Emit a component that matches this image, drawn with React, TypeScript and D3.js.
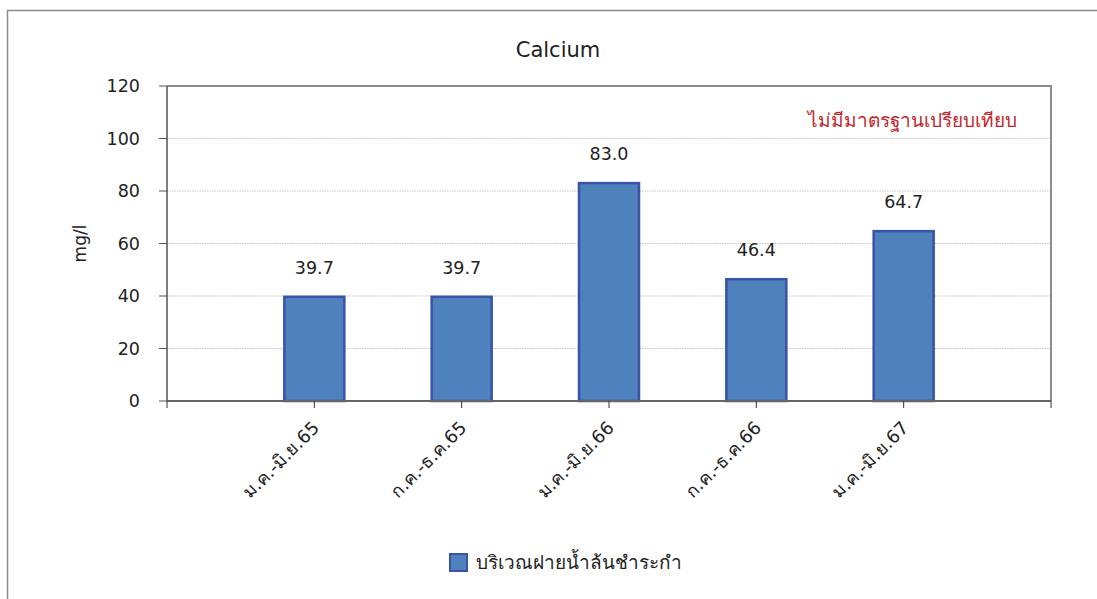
import * as d3 from "d3";

const categories = [
  "ม.ค.-มิ.ย.65",
  "ก.ค.-ธ.ค.65",
  "ม.ค.-มิ.ย.66",
  "ก.ค.-ธ.ค.66",
  "ม.ค.-มิ.ย.67",
];
const values = [39.7, 39.7, 83.0, 46.4, 64.7];
const yTicks = [0, 20, 40, 60, 80, 100, 120];
const seriesName = "บริเวณฝายน้ำล้นชำระกำ";
const title = "Calcium";
const yLabel = "mg/l";
const note = "ไม่มีมาตรฐานเปรียบเทียบ";

const width = 1097;
const height = 599;
const plot = { left: 167, right: 1051, top: 86, bottom: 401 };
const font = "Tahoma, 'DejaVu Sans', 'Noto Sans', sans-serif";

export default function App() {
  const x = d3
    .scalePoint<string>()
    .domain(categories)
    .range([plot.left, plot.right])
    .padding(1);
  const y = d3.scaleLinear().domain([0, 120]).range([plot.bottom, plot.top]);
  const barW = 60;
  // tick marks at both ends and under each bar
  const xTickPos = [plot.left, ...categories.map((c) => x(c) ?? 0), plot.right];

  return (
    <svg
      width={width}
      height={height}
      style={{ position: "absolute", left: 0, top: 0, background: "#fff" }}
      fontFamily={font}
    >
      {/* outer chart frame */}
      <path d={`M7.5,${height} V10.5 H${width}`} fill="none" stroke="#8a8a8a" strokeWidth={1.5} />

      <text x={558} y={57} textAnchor="middle" fontSize={21} fill="#222">
        {title}
      </text>

      {/* gridlines */}
      {yTicks.slice(1, -1).map((t) => (
        <line
          key={t}
          x1={plot.left}
          x2={plot.right}
          y1={y(t)}
          y2={y(t)}
          stroke="#b5b5b5"
          strokeWidth={0.8}
          strokeDasharray="1.5,1"
        />
      ))}

      {/* plot frame top/right */}
      <path
        d={`M${plot.left},${plot.top} H${plot.right} V${plot.bottom}`}
        fill="none"
        stroke="#8c8c8c"
        strokeWidth={2}
      />

      {/* bars */}
      {categories.map((c, i) => (
        <rect
          key={c}
          x={(x(c) ?? 0) - barW / 2}
          y={y(values[i])}
          width={barW}
          height={y(0) - y(values[i])}
          fill="#4f81bd"
          stroke="#3a52a8"
          strokeWidth={2.5}
        />
      ))}

      {/* value labels */}
      {categories.map((c, i) => (
        <text
          key={c}
          x={x(c)}
          y={y(values[i]) - 23}
          textAnchor="middle"
          fontSize={17.5}
          fill="#222"
        >
          {values[i].toFixed(1)}
        </text>
      ))}

      {/* y axis */}
      <line x1={plot.left} x2={plot.left} y1={plot.top} y2={plot.bottom} stroke="#555" strokeWidth={1.5} />
      {yTicks.map((t) => (
        <g key={t} transform={`translate(0,${y(t)})`}>
          <line x1={plot.left - 8} x2={plot.left} stroke="#555" strokeWidth={1} />
          <text x={140} dy="0.35em" textAnchor="end" fontSize={17.5} fill="#222">
            {t}
          </text>
        </g>
      ))}
      <text
        transform={`translate(86,${(plot.top + plot.bottom) / 2}) rotate(-90)`}
        textAnchor="middle"
        fontSize={17}
        fill="#222"
      >
        {yLabel}
      </text>

      {/* x axis */}
      <line x1={plot.left} x2={plot.right} y1={plot.bottom} y2={plot.bottom} stroke="#666" strokeWidth={2} />
      {xTickPos.map((p, i) => (
        <line key={i} x1={p} x2={p} y1={plot.bottom} y2={plot.bottom + 7} stroke="#333" strokeWidth={1} />
      ))}
      {categories.map((c) => (
        <text
          key={c}
          transform={`translate(${(x(c) ?? 0) + 6},${plot.bottom + 28}) rotate(-45)`}
          textAnchor="end"
          fontSize={18}
          fill="#222"
        >
          {c}
        </text>
      ))}

      {/* note */}
      <text x={1017} y={127} textAnchor="end" fontSize={19} fill="#c0272d">
        {note}
      </text>

      {/* legend */}
      <rect x={450} y={554} width={17} height={17} fill="#4f81bd" stroke="#3a52a8" strokeWidth={2} />
      <text x={476} y={569} fontSize={19} fill="#222">
        {seriesName}
      </text>
    </svg>
  );
}
